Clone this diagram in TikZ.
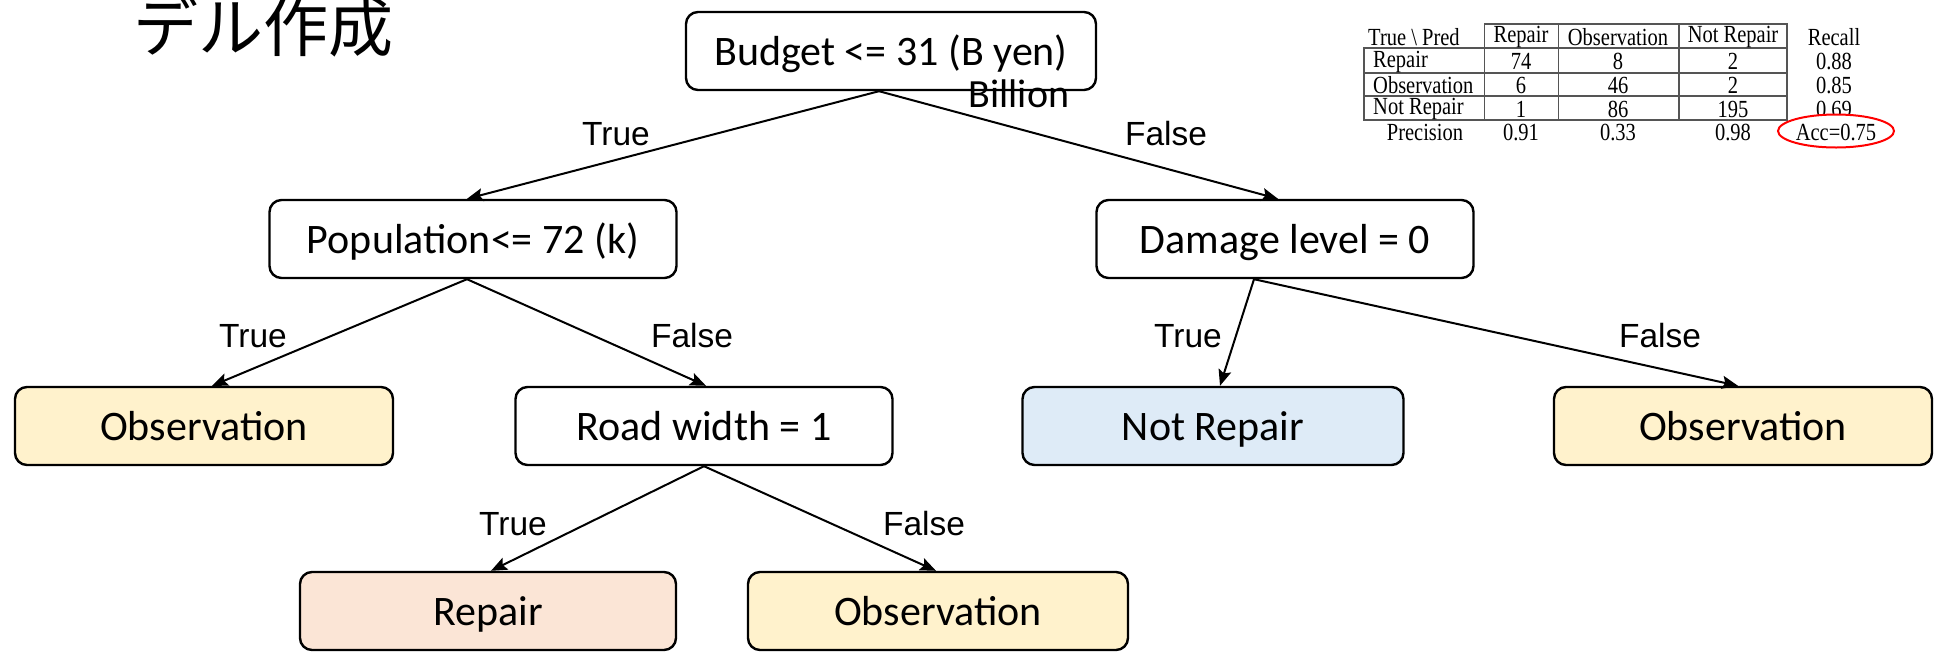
\documentclass[tikz,border=0pt]{standalone}
\usepackage{fontspec}
\setmainfont{Carlito}
\newfontfamily\arialf{Liberation Sans}
\newfontfamily\tmsf{Liberation Serif}
\newfontfamily\jpf{Noto Sans CJK JP}
\usetikzlibrary{arrows.meta,calc,shapes.geometric}
\definecolor{obsfill}{HTML}{FFF2CC}
\definecolor{repfill}{HTML}{FBE5D6}
\definecolor{nrfill}{HTML}{DEEBF7}
\definecolor{tblline}{HTML}{555555}
\newcommand{\tcx}[1]{\scalebox{1}[1.2]{#1}}
\tikzset{
  treebox/.style={draw=black, line width=2.4pt, rounded corners=12pt, minimum height=78pt,
    inner sep=0pt, text height=29pt, text depth=0pt, font=\fontsize{42}{50}\selectfont, fill=white},
  obsbox/.style={treebox, fill=obsfill},
  repbox/.style={treebox, fill=repfill},
  nrbox/.style={treebox, fill=nrfill},
  edgelbl/.style={anchor=base, inner sep=0pt, font=\arialf\fontsize{33.5}{40}\selectfont},
  conn/.style={line width=2pt, -{Stealth[length=16pt,width=13pt,inset=3pt]}},
  tcell/.style={inner sep=0pt, font=\tmsf\fontsize{20.5}{24}\selectfont},
  tline/.style={draw=tblline, line width=1.4pt}
}
\begin{document}
\begin{tikzpicture}[x=1pt,y=-1pt]
\useasboundingbox (0,0) rectangle (1936,651);
% title fragment
\node[anchor=base west, inner sep=0pt, font=\jpf\fontsize{65}{70}\selectfont] (title) at (133,51) {デル作成};
% tree nodes
\node[treebox, minimum width=410pt] (root) at (891,51) {Budget <= 31 (B yen)};
\node[anchor=base, inner sep=0pt, font=\fontsize{40}{46}\selectfont] (billion) at (1019,107) {Billion};
\node[treebox, minimum width=407pt] (pop) at (473,239) {Population<= 72 (k)};
\node[treebox, minimum width=377pt] (dmg) at (1285,239) {Damage level = 0};
\node[obsbox, minimum width=378pt] (obsL) at (204,426) {Observation};
\node[treebox, minimum width=377pt] (road) at (704,426) {Road width = 1};
\node[nrbox, minimum width=381pt] (notrep) at (1213,426) {Not Repair};
\node[obsbox, minimum width=378pt] (obsR) at (1743,426) {Observation};
\node[repbox, minimum width=376pt] (rep) at (488,611) {Repair};
\node[obsbox, minimum width=380pt] (obsB) at (938,611) {Observation};
% connectors
\draw[conn] ($(root.south)+(-12,0)$) -- ($(pop.north)+(-6,0)$);
\draw[conn] ($(root.south)+(-12,0)$) -- ($(dmg.north)+(-7,0)$);
\draw[conn] ($(pop.south)+(-6,0)$) -- ($(obsL.north)+(8,0)$);
\draw[conn] ($(pop.south)+(-6,0)$) -- ($(road.north)+(2,0)$);
\draw[conn] ($(dmg.south)+(-31,0)$) -- ($(notrep.north)+(7,0)$);
\draw[conn] ($(dmg.south)+(-31,0)$) -- ($(obsR.north)+(-5,0)$);
\draw[conn] (road.south) -- ($(rep.north)+(3,0)$);
\draw[conn] (road.south) -- ($(obsB.north)+(-2,0)$);
% edge labels
\node[edgelbl] (l1) at (616,145) {True};
\node[edgelbl] (l2) at (1166,145) {False};
\node[edgelbl] (l3) at (253,347) {True};
\node[edgelbl] (l4) at (692,347) {False};
\node[edgelbl] (l5) at (1188,347) {True};
\node[edgelbl] (l6) at (1660,347) {False};
\node[edgelbl] (l7) at (513,535) {True};
\node[edgelbl] (l8) at (924,535) {False};
% confusion table
\draw[tline] (1484.5,24) rectangle (1787,48);
\draw[tline] (1558.5,24) -- (1558.5,48);
\draw[tline] (1679,24) -- (1679,48);
\draw[tline] (1364,48) rectangle (1787,120);
\draw[tline] (1364,73) -- (1787,73);
\draw[tline] (1364,96) -- (1787,96);
\draw[tline] (1484.5,48) -- (1484.5,120);
\draw[tline] (1558.5,48) -- (1558.5,120);
\draw[tline] (1679,48) -- (1679,120);
\node[tcell, anchor=west] (h0) at (1368,37) {\tcx{True \textbackslash{} Pred}};
\node[tcell] (h1) at (1521,37) {\tcx{Repair}};
\node[tcell] (h2) at (1618,37) {\tcx{Observation}};
\node[tcell] (h3) at (1733,37) {\tcx{Not Repair}};
\node[tcell] (h4) at (1834,37) {\tcx{Recall}};
\node[tcell, anchor=west] (r1) at (1373,61.5) {\tcx{Repair}};
\node[tcell] (c11) at (1521,61.5) {\tcx{74}};
\node[tcell] (c12) at (1618,61.5) {\tcx{8}};
\node[tcell] (c13) at (1733,61.5) {\tcx{2}};
\node[tcell] (c14) at (1834,61.5) {\tcx{0.88}};
\node[tcell, anchor=west] (r2) at (1373,85.5) {\tcx{Observation}};
\node[tcell] (c21) at (1521,85.5) {\tcx{6}};
\node[tcell] (c22) at (1618,85.5) {\tcx{46}};
\node[tcell] (c23) at (1733,85.5) {\tcx{2}};
\node[tcell] (c24) at (1834,85.5) {\tcx{0.85}};
\node[tcell, anchor=west] (r3) at (1373,109) {\tcx{Not Repair}};
\node[tcell] (c31) at (1521,109) {\tcx{1}};
\node[tcell] (c32) at (1618,109) {\tcx{86}};
\node[tcell] (c33) at (1733,109) {\tcx{195}};
\node[tcell] (c34) at (1834,109) {\tcx{0.69}};
\node[tcell] (p0) at (1425,132) {\tcx{Precision}};
\node[tcell] (p1) at (1521,132) {\tcx{0.91}};
\node[tcell] (p2) at (1618,132) {\tcx{0.33}};
\node[tcell] (p3) at (1733,132) {\tcx{0.98}};
\node[draw=red, fill=white, line width=2pt, ellipse, minimum width=116pt, minimum height=33pt, inner sep=0pt] (accell) at (1836,131) {};
\node[tcell] (acc) at (1836,132) {\tcx{Acc=0.75}};
\end{tikzpicture}
\end{document}
